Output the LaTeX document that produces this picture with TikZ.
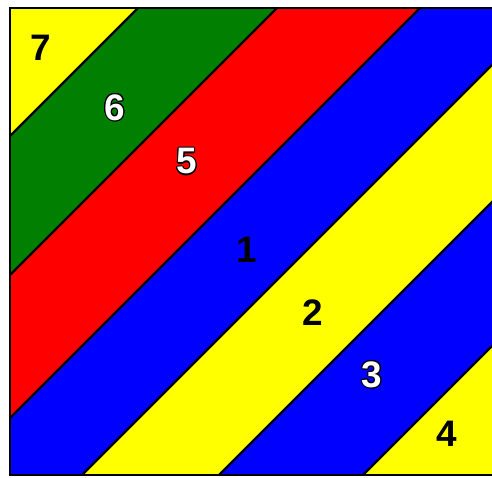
\documentclass[tikz,border=0pt]{standalone}
\usepackage{fontspec}
\setsansfont{Liberation Sans}
\usepackage{contour}
\contourlength{0.6pt}
\definecolor{bandyellow}{HTML}{FFFF00}
\definecolor{bandgreen}{HTML}{007F00}
\definecolor{bandred}{HTML}{FF0000}
\definecolor{bandblue}{HTML}{0000FF}

\begin{document}
\begin{tikzpicture}[
  x=0.02cm, y=-0.02cm,
  every node/.style={font=\sffamily\bfseries\fontsize{21}{24}\selectfont},
  edge/.style={line width=1.3pt, black},
  dark/.style={text=black},
  light/.style={text=white},
]
  % Canvas (right side of the square runs off the picture)
  \clip (0,0) rectangle (492,477);
  \fill[white] (0,0) rectangle (492,477);

  % Diagonal bands, bounded by lines x+y=c
  \begin{scope}
    \clip (10,8) rectangle (520,475);
    \foreach \ca/\cb/\col in {0/146/bandyellow, 146/285/bandgreen,
        285/428/bandred, 428/557/bandblue, 557/694/bandyellow,
        694/838/bandblue, 838/1200/bandyellow}
      \fill[\col] (\ca+100,-100) -- (\cb+100,-100) -- (\cb-600,600) -- (\ca-600,600) -- cycle;
    \foreach \c in {146,285,428,557,694,838}
      \draw[edge] (\c+100,-100) -- (\c-600,600);
  \end{scope}

  % Frame
  \draw[edge] (520,8) -- (10,8) -- (10,475) -- (520,475);

  % Band numbers
  \node[dark]  (n7) at (41,48)   {7};
  \node[light] (n6) at (115,108) {\contour{black}{6}};
  \node[light] (n5) at (187,162) {\contour{black}{5}};
  \node[dark]  (n1) at (247,250) {1};
  \node[dark]  (n2) at (313,313) {2};
  \node[light] (n3) at (372,375) {\contour{black}{3}};
  \node[dark]  (n4) at (447,434) {4};
\end{tikzpicture}
\end{document}
